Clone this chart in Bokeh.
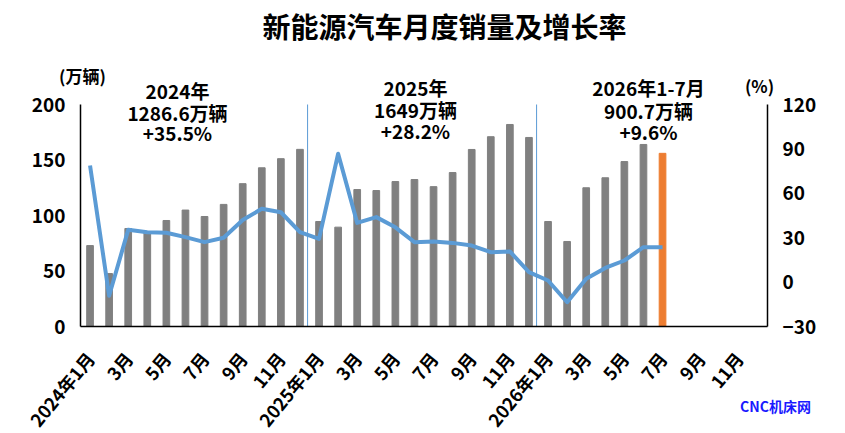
import math
from bokeh.plotting import figure
from bokeh.models import Range1d, LinearAxis, FixedTicker, Label, ColumnDataSource
from bokeh.embed import file_html
from bokeh.resources import INLINE

# ---------------- data ----------------
years = ["2024", "2025", "2026"]
month_names = ["1月", "2月", "3月", "4月", "5月", "6月", "7月", "8月", "9月", "10月", "11月", "12月"]

sales_2024 = [72.9, 47.7, 88.3, 85.0, 95.5, 104.9, 99.1, 110.0, 128.7, 143.0, 151.2, 159.6]
sales_2025 = [94.6, 89.5, 123.4, 122.5, 130.6, 132.4, 126.0, 138.7, 159.5, 171.0, 182.0, 170.3]
sales_2026 = [94.6, 76.6, 125.0, 134.0, 148.6, 164.0, 156.0]

growth_2024 = [78.8, -9.2, 35.3, 33.7, 33.3, 30.4, 27.0, 30.0, 42.0, 49.5, 47.2, 33.7]
growth_2025 = [29.2, 86.7, 40.0, 43.9, 37.0, 27.0, 27.4, 26.5, 24.7, 20.2, 20.7, 6.7]
growth_2026 = [1.1, -13.6, 2.2, 9.6, 14.6, 23.6, 23.6]

summary_titles = ["2024年", "2025年", "2026年1-7月"]
summary_totals = ["1286.6万辆", "1649万辆", "900.7万辆"]
summary_growth = ["+35.5%", "+28.2%", "+9.6%"]

left_ticks = [0, 50, 100, 150, 200]
right_ticks = [-30, 0, 30, 60, 90, 120]

# ---------------- derived ----------------
sales = sales_2024 + sales_2025 + sales_2026
growth = growth_2024 + growth_2025 + growth_2026
n_slots = 12 * len(years)
xs = list(range(len(sales)))
colors = ["#808080"] * (len(sales) - 1) + ["#ED7D31"]

labels = {}
for i in range(0, n_slots, 2):
    y, m = divmod(i, 12)
    labels[i] = (years[y] + "年" + month_names[m]) if m == 0 else month_names[m]

FONT = "Noto Sans CJK SC"

# page geometry: the frame covers the whole canvas, axes sit at fixed locations
W, H = 845, 433
FL, FR, FT_AX, FB = 80, 767, 104, 326   # axis box left/right/top/bottom (page px)
X0, X1 = -0.5, n_slots - 0.5
L_MIN, L_MAX = left_ticks[0], left_ticks[-1]
R_MIN, R_MAX = right_ticks[0], right_ticks[-1]
kx = (FR - FL) / (X1 - X0)
kl = (FB - FT_AX) / (L_MAX - L_MIN)
kr = (FB - FT_AX) / (R_MAX - R_MIN)

p = figure(width=W, height=H, output_backend="svg", toolbar_location=None,
           x_range=Range1d(X0 - FL / kx, X1 + (W - FR) / kx),
           y_range=Range1d(L_MIN - (H - FB) / kl, L_MAX + FT_AX / kl),
           min_border=0, min_border_left=0, min_border_right=0,
           min_border_top=0, min_border_bottom=0, title=None)
p.extra_y_ranges = {"pct": Range1d(R_MIN - (H - FB) / kr, R_MAX + FT_AX / kr)}
p.xgrid.visible = False
p.ygrid.visible = False
p.outline_line_color = None
p.background_fill_color = "white"
p.border_fill_color = "white"

src = ColumnDataSource(dict(x=xs, top=sales, color=colors))
p.vbar(x="x", top="top", width=0.35, color="color", source=src)

# year separators
sep_x = [12 * k - 0.6 for k in range(1, len(years))]
p.segment(x0=sep_x, y0=[L_MIN] * len(sep_x), x1=sep_x, y1=[L_MAX] * len(sep_x),
          line_color="#5B9BD5", line_width=1)

p.line(xs, growth, y_range_name="pct", line_color="#5B9BD5", line_width=4, line_join="round")

def style_axis(ax):
    ax.axis_line_color = "black"
    ax.axis_line_width = 1.5
    ax.major_tick_line_color = None
    ax.minor_tick_line_color = None
    ax.major_tick_out = 0
    ax.major_tick_in = 0
    ax.major_label_text_font = FONT
    ax.major_label_text_font_style = "bold"
    ax.major_label_text_color = "black"

yl = p.yaxis[0]
yl.ticker = FixedTicker(ticks=left_ticks)
yl.bounds = (L_MIN, L_MAX)
yl.fixed_location = X0
style_axis(yl)
yl.major_label_text_font_size = "19px"
yl.major_label_standoff = 15

yr = LinearAxis(y_range_name="pct", ticker=FixedTicker(ticks=right_ticks), bounds=(R_MIN, R_MAX),
                fixed_location=X1)
style_axis(yr)
yr.major_label_text_font_size = "19px"
yr.major_label_standoff = 15
p.add_layout(yr, "right")

xa = p.xaxis[0]
xa.ticker = FixedTicker(ticks=list(labels.keys()))
xa.major_label_overrides = labels
xa.bounds = (X0, X1)
xa.fixed_location = L_MIN
style_axis(xa)
xa.major_label_text_font_size = "18px"
xa.major_label_orientation = 0.88
xa.major_label_standoff = 28

# ---------------- texts ----------------
def add_text(txt, px, py, size, color="black"):
    p.add_layout(Label(x=px, y=H - py, x_units="screen", y_units="screen", text=txt,
                       text_font=FONT, text_font_size=size, text_font_style="bold",
                       text_color=color, text_align="center", text_baseline="middle"))

add_text("新能源汽车月度销量及增长率", 444, 25, "28px")
add_text("(万辆)", 82, 75, "17px")
add_text("(%)", 759, 85, "17px")

block_x = [177, 415, 648]
block_y = [[90, 112, 132], [87, 109, 130], [87, 110, 131]]
for i in range(3):
    add_text(summary_titles[i], block_x[i], block_y[i][0], "19px")
    add_text(summary_totals[i], block_x[i], block_y[i][1], "19px")
    add_text(summary_growth[i], block_x[i], block_y[i][2], "19px")

add_text("CNC机床网", 775, 405, "14px", color="#1a1aff")

open("out.html", "w").write(file_html(p, INLINE))
